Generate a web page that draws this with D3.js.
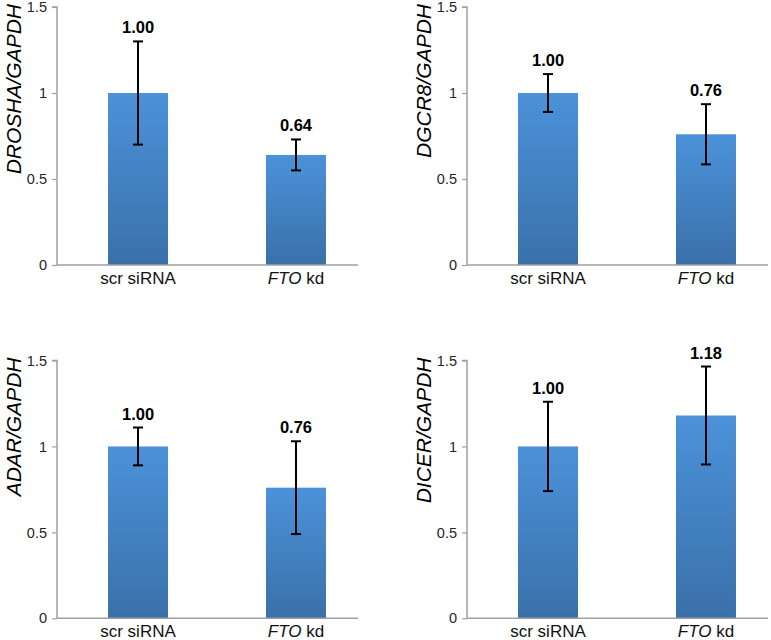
<!DOCTYPE html>
<html>
<head>
<meta charset="utf-8">
<script src="https://cdn.jsdelivr.net/npm/d3@7"></script>
<style>
  html, body { margin: 0; padding: 0; background: #fff; }
  svg { display: block; font-family: "Liberation Sans", Arial, sans-serif; }
</style>
</head>
<body>
<svg id="chart" width="771" height="640"></svg>
<script>
// ---- data ----
const categories = ["scr siRNA", "FTO kd"];
const genes = ["DROSHA", "DGCR8", "ADAR", "DICER"];
const droshaValues = [1.00, 0.64];
const droshaErrors = [0.30, 0.09];
const dgcr8Values = [1.00, 0.76];
const dgcr8Errors = [0.11, 0.175];
const adarValues = [1.00, 0.76];
const adarErrors = [0.11, 0.27];
const dicerValues = [1.00, 1.18];
const dicerErrors = [0.26, 0.285];
const yTicks = [0, 0.5, 1, 1.5];

const seriesValues = [droshaValues, dgcr8Values, adarValues, dicerValues];
const seriesErrors = [droshaErrors, dgcr8Errors, adarErrors, dicerErrors];

// ---- layout ----
const panelLayout = [
  { axisX: 57,  top: 7,     bottom: 265 },
  { axisX: 467, top: 7,     bottom: 265 },
  { axisX: 57,  top: 360.5, bottom: 618.3 },
  { axisX: 467, top: 360.5, bottom: 618.3 }
];

const svg = d3.select("#chart");
const defs = svg.append("defs");
const grad = defs.append("linearGradient")
  .attr("id", "barGrad").attr("x1", 0).attr("y1", 0).attr("x2", 0).attr("y2", 1);
grad.append("stop").attr("offset", "0%").attr("stop-color", "#4b92da");
grad.append("stop").attr("offset", "100%").attr("stop-color", "#3a70a9");

genes.forEach((gene, gi) => {
  const L = panelLayout[gi];
  const values = seriesValues[gi];
  const errors = seriesErrors[gi];
  const g = svg.append("g");

  const x = d3.scaleBand().domain(categories)
    .range([L.axisX, L.axisX + 320])
    .paddingInner(0.62).paddingOuter(0.323);
  const y = d3.scaleLinear().domain([0, 1.5]).range([L.bottom, L.top]);

  const data = categories.map((c, i) => ({ c, v: values[i], e: errors[i] }));

  // bars
  g.selectAll("rect.bar").data(data).enter().append("rect")
    .attr("class", "bar")
    .attr("x", d => x(d.c))
    .attr("width", x.bandwidth())
    .attr("y", d => y(d.v))
    .attr("height", d => y(0) - y(d.v))
    .attr("fill", "url(#barGrad)");

  // y axis
  const yAxis = d3.axisLeft(y).tickValues(yTicks).tickSize(5).tickPadding(5)
    .tickFormat(d3.format("~g"));
  const ya = g.append("g").attr("transform", `translate(${L.axisX},0)`).call(yAxis);
  ya.select(".domain").attr("stroke", "#a0a0a0").attr("stroke-width", 1.5)
    .attr("d", `M-5,${L.top}H0V${L.bottom}`);
  ya.selectAll(".tick line").attr("stroke", "#a0a0a0").attr("stroke-width", 1.2);
  ya.selectAll(".tick text").attr("font-size", 14.5).attr("fill", "#262626")
    .attr("font-family", "Liberation Sans, Arial, sans-serif");

  // x baseline
  g.append("line")
    .attr("x1", L.axisX).attr("x2", L.axisX + 301)
    .attr("y1", y(0)).attr("y2", y(0))
    .attr("stroke", "#a0a0a0").attr("stroke-width", 1.5);

  // x labels
  data.forEach(d => {
    const t = g.append("text")
      .attr("x", x(d.c) + x.bandwidth() / 2)
      .attr("y", y(0) + 18.5)
      .attr("text-anchor", "middle")
      .attr("font-size", 17).attr("fill", "#111");
    if (d.c === "FTO kd") {
      t.append("tspan").attr("font-style", "italic").text("FTO");
      t.append("tspan").text(" kd");
    } else {
      t.text(d.c);
    }
  });

  // error bars
  const cap = 5;
  data.forEach(d => {
    const cx = x(d.c) + x.bandwidth() / 2;
    const hi = y(d.v + d.e), lo = y(d.v - d.e);
    g.append("line").attr("x1", cx).attr("x2", cx).attr("y1", hi).attr("y2", lo)
      .attr("stroke", "#000").attr("stroke-width", 2);
    [hi, lo].forEach(yy => g.append("line")
      .attr("x1", cx - cap).attr("x2", cx + cap).attr("y1", yy).attr("y2", yy)
      .attr("stroke", "#000").attr("stroke-width", 2));
    // value label
    g.append("text")
      .attr("x", cx).attr("y", hi - 8)
      .attr("text-anchor", "middle")
      .attr("font-size", 16.5).attr("font-weight", "bold").attr("fill", "#000")
      .text(d3.format(".2f")(d.v));
  });

  // y title
  const tx = L.axisX - 36.5, ty = L.top - 3;
  g.append("text")
    .attr("transform", `translate(${tx},${ty}) rotate(-90)`)
    .attr("text-anchor", "end")
    .attr("font-size", 21).attr("font-style", "italic").attr("fill", "#000")
    .text(gene + "/GAPDH");
});
</script>
</body>
</html>
